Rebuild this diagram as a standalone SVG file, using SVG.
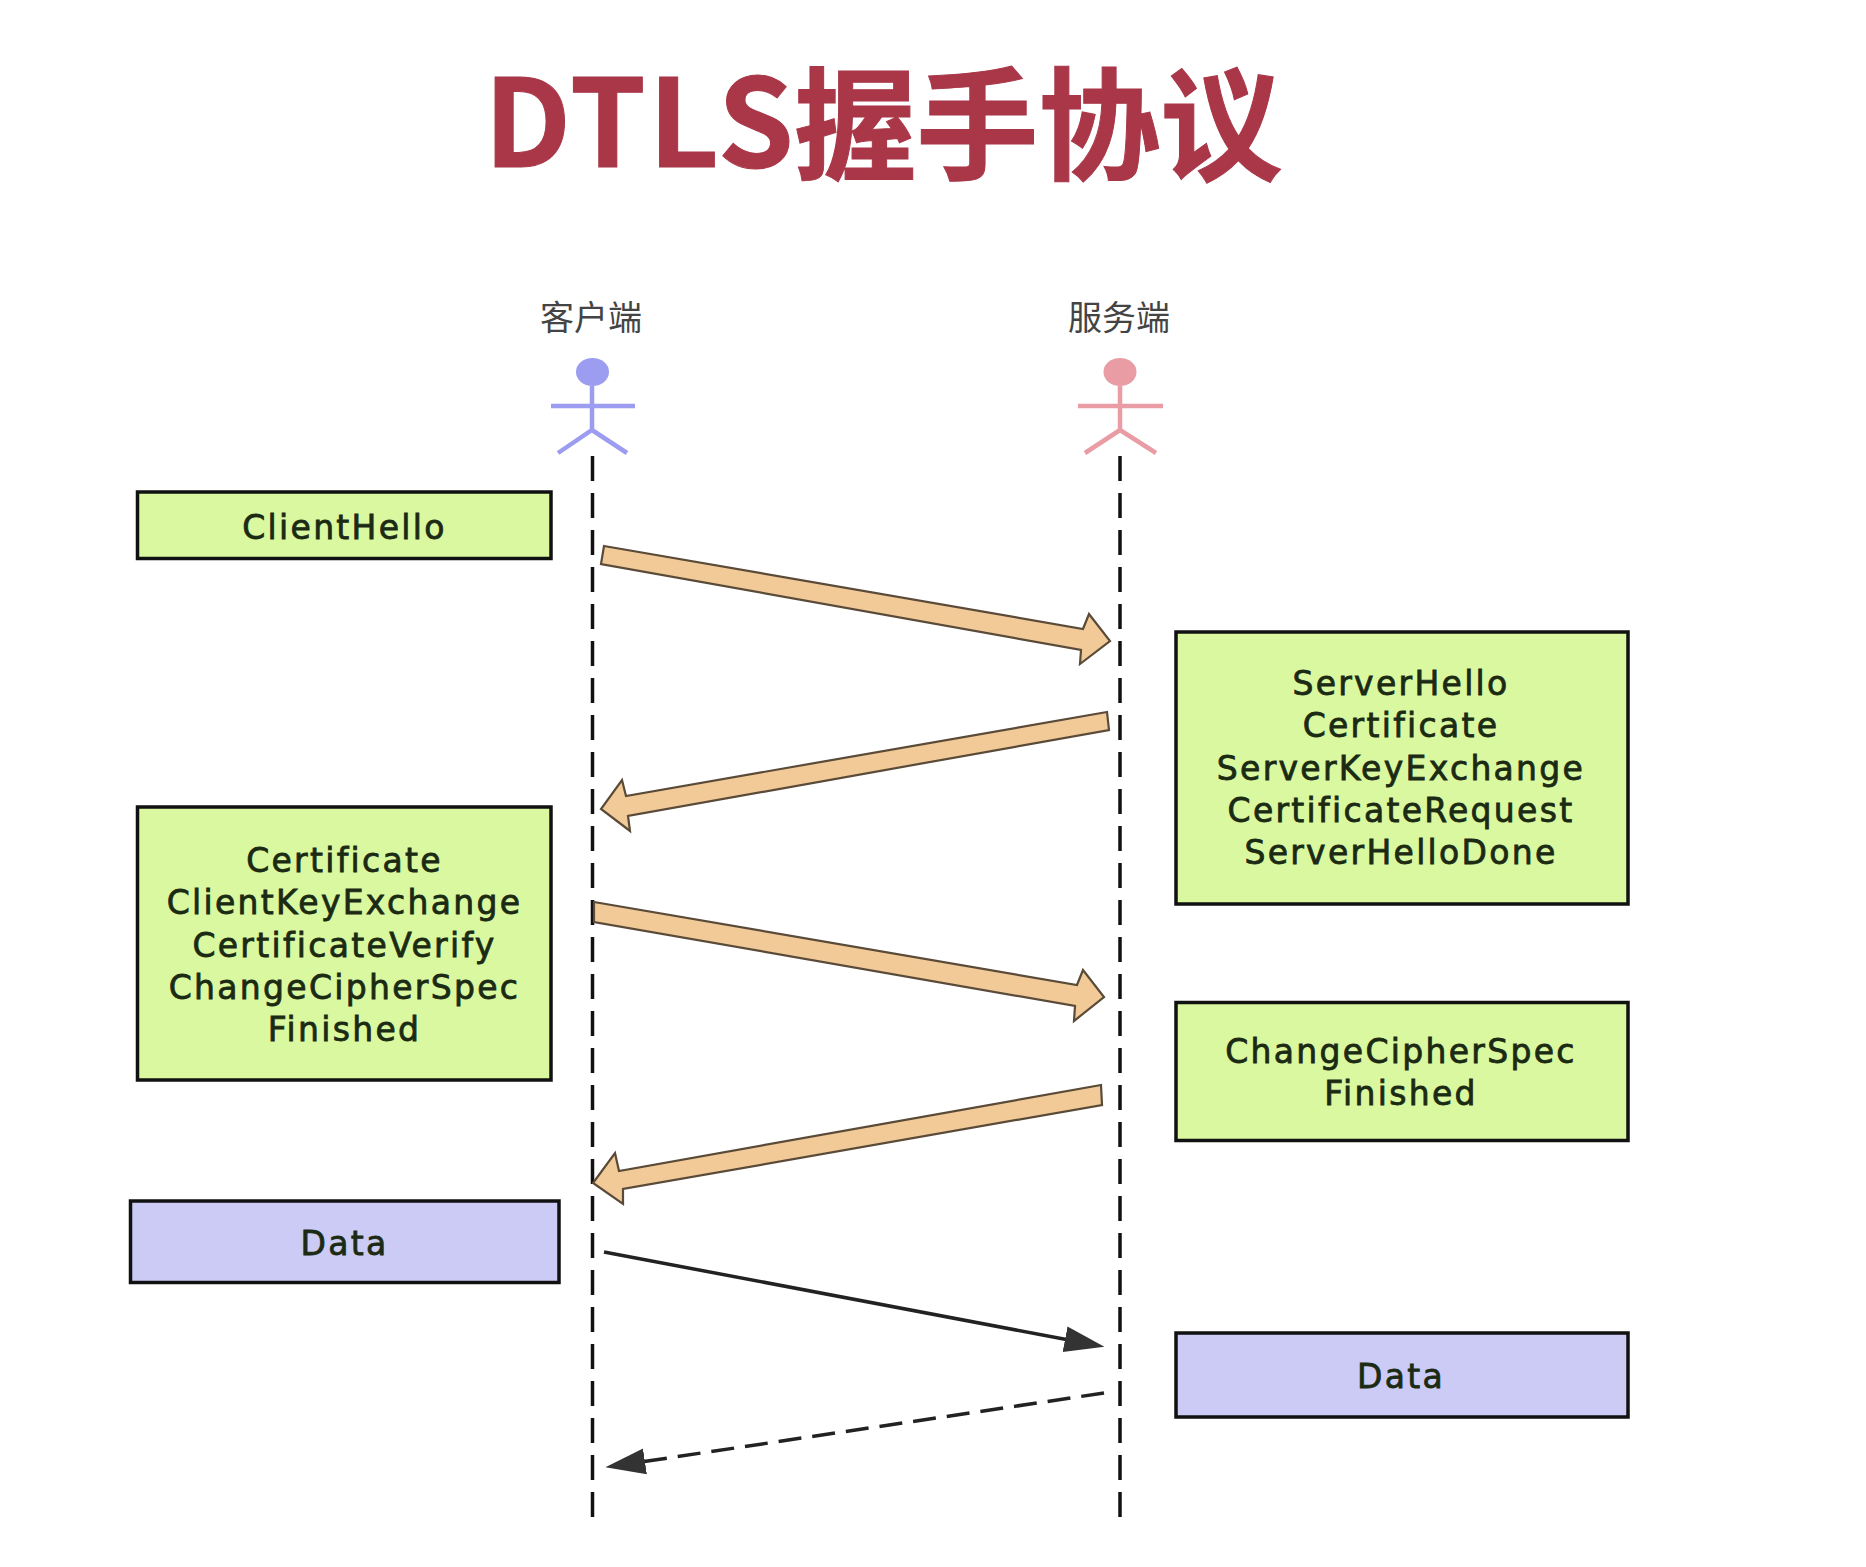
<svg xmlns="http://www.w3.org/2000/svg" width="1866" height="1567" viewBox="0 0 1866 1567">
<style>
.title{font-family:"Noto Sans CJK SC","Noto Sans",sans-serif;font-weight:700;font-size:122px;fill:#A93748;stroke:#A93748;stroke-width:1}
.actor{font-family:"Noto Sans CJK SC",sans-serif;font-size:34px;fill:#444;text-anchor:middle}
.box{stroke:#111;stroke-width:3.5}
.g{fill:#D9F8A0}
.p{fill:#CBCBF5}
.t{font-family:"DejaVu Sans",sans-serif;font-size:33px;letter-spacing:2.3px;fill:#1B2A12;text-anchor:middle;font-weight:400;stroke:#1B2A12;stroke-width:.8}
.fig{fill:none;stroke-width:4.500}
.life{stroke:#111;stroke-width:3.5;stroke-dasharray:25 12;fill:none}
.block{fill:#F1CA98;stroke:#5A4A38;stroke-width:2.2;stroke-linejoin:miter}
.msg{stroke:#222;stroke-width:3.5;fill:none}
</style>
<defs>
<marker id="head" markerUnits="userSpaceOnUse" markerWidth="44" markerHeight="30" refX="4" refY="15" orient="auto">
<path d="M0 2L40 15L0 28z" fill="#333"/>
</marker>
</defs>
<rect width="1866" height="1567" fill="#fff"/>
<text id="title" class="title" x="484" y="167"><tspan letter-spacing="2.4">DTLS</tspan><tspan dx="-2" dy="3">握手协议</tspan></text>

<g id="client">
<text class="actor" x="591" y="330">客户端</text>
<ellipse cx="592.500" cy="372" rx="16.5" ry="14" fill="#9C9CF0"/>
<path class="fig" stroke="#9C9CF0" d="M592 386V430M551 406H635M558 453L592 430L627 453"/>
</g>
<g id="server">
<text class="actor" x="1119" y="330">服务端</text>
<ellipse cx="1120" cy="372" rx="16.5" ry="14" fill="#E99CA4"/>
<path class="fig" stroke="#E99CA4" d="M1120 386V430M1078 406H1163M1085 453L1120 430L1156 453"/>
</g>

<g id="connectors">
<path class="life" d="M592.500 456V1518"/>
<path class="life" d="M1120 456V1518"/>
<polygon class="block" points="604,546 1083,629 1089,614 1110,641 1080,664 1081,650 601,564"/>
<polygon class="block" points="1107,712 626,796 622,780 601,809 630,831 628,816 1109,730"/>
<polygon class="block" points="594,902 1077,985 1083,970 1104,997 1074,1021 1075,1006 594,922"/>
<polygon class="block" points="1101,1085 619,1171 615,1153 593,1183 623,1204 623,1189 1102,1105"/>
<line class="msg" x1="604" y1="1252" x2="1069" y2="1340" marker-end="url(#head)"/>
<line class="msg" x1="1104" y1="1393" x2="641" y2="1462" stroke-dasharray="23 11" stroke-width="5" marker-end="url(#head)"/>
</g>

<g id="clienthello">
<rect class="box g" x="137.500" y="492" width="413.500" height="66.500"/>
<text class="t" x="344.500" y="539">ClientHello</text>
</g>
<g id="serverhello">
<rect class="box g" x="1176" y="632" width="452" height="272"/>
<text class="t" x="1401" y="695">ServerHello</text>
<text class="t" x="1401" y="737">Certificate</text>
<text class="t" x="1401" y="779.500">ServerKeyExchange</text>
<text class="t" x="1401" y="822">CertificateRequest</text>
<text class="t" x="1401" y="864">ServerHelloDone</text>
</g>
<g id="clientfinish">
<rect class="box g" x="137.500" y="807" width="413.500" height="273"/>
<text class="t" x="344.500" y="872">Certificate</text>
<text class="t" x="344.500" y="914">ClientKeyExchange</text>
<text class="t" x="344.500" y="956.500">CertificateVerify</text>
<text class="t" x="344.500" y="999">ChangeCipherSpec</text>
<text class="t" x="344.500" y="1041">Finished</text>
</g>
<g id="serverfinish">
<rect class="box g" x="1176" y="1002.500" width="452" height="138"/>
<text class="t" x="1401" y="1063">ChangeCipherSpec</text>
<text class="t" x="1401" y="1105">Finished</text>
</g>
<g id="dataclient">
<rect class="box p" x="130.500" y="1201" width="428.500" height="81.500"/>
<text class="t" x="344.500" y="1255">Data</text>
</g>
<g id="dataserver">
<rect class="box p" x="1176" y="1333" width="452" height="84"/>
<text class="t" x="1401" y="1388">Data</text>
</g>
</svg>
